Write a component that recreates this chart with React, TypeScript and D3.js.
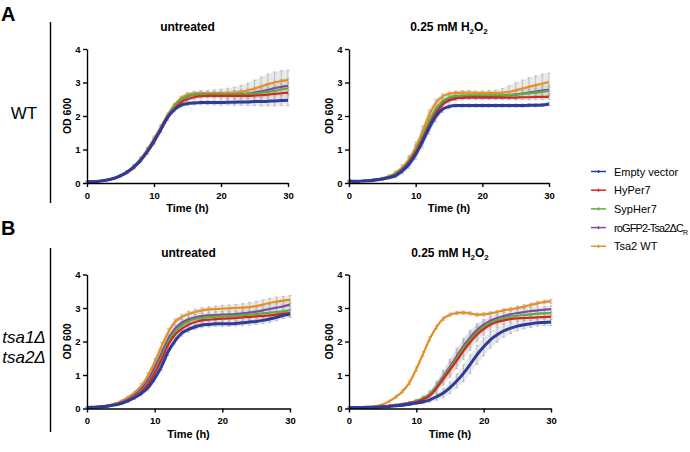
import * as d3 from "d3";
import React, { useEffect, useRef } from "react";

// hours sampled
const time = [0, 1, 2, 3, 4, 5, 6, 7, 8, 9, 10, 11, 12, 13, 14, 15, 16, 17, 18, 19, 20, 21, 22, 23, 24, 25, 26, 27, 28, 29, 30];
const xTicks = [0, 10, 20, 30];
const yTicks = [0, 1, 2, 3, 4];

const seriesNames = ["Empty vector", "HyPer7", "SypHer7", "roGFP2-Tsa2\u0394C", "Tsa2 WT"];
const seriesColors = ["#2d3b9c", "#d2281f", "#5cae3b", "#7b4ea3", "#e8901e"];

// WT, untreated
const wtCtrlEmpty = [0.04, 0.04, 0.06, 0.09, 0.14, 0.22, 0.33, 0.48, 0.68, 0.94, 1.25, 1.6, 1.95, 2.18, 2.32, 2.37, 2.39, 2.4, 2.4, 2.4, 2.4, 2.41, 2.41, 2.42, 2.42, 2.43, 2.43, 2.44, 2.45, 2.46, 2.47];
const wtCtrlHyper = [0.04, 0.04, 0.06, 0.09, 0.13, 0.21, 0.31, 0.46, 0.66, 0.92, 1.22, 1.57, 1.93, 2.2, 2.4, 2.5, 2.56, 2.59, 2.6, 2.6, 2.6, 2.6, 2.6, 2.6, 2.6, 2.61, 2.62, 2.64, 2.66, 2.68, 2.7];
const wtCtrlSypher = [0.04, 0.04, 0.06, 0.09, 0.14, 0.22, 0.33, 0.49, 0.7, 0.97, 1.28, 1.62, 1.98, 2.28, 2.48, 2.6, 2.64, 2.65, 2.65, 2.65, 2.65, 2.65, 2.65, 2.65, 2.66, 2.67, 2.69, 2.72, 2.75, 2.79, 2.82];
const wtCtrlRogfp = [0.04, 0.04, 0.06, 0.09, 0.14, 0.22, 0.33, 0.49, 0.7, 0.97, 1.28, 1.62, 1.98, 2.27, 2.47, 2.58, 2.63, 2.64, 2.64, 2.64, 2.64, 2.64, 2.65, 2.66, 2.67, 2.7, 2.74, 2.78, 2.83, 2.87, 2.9];
const wtCtrlTsa2 = [0.04, 0.04, 0.06, 0.09, 0.14, 0.22, 0.34, 0.5, 0.72, 1.0, 1.32, 1.67, 2.02, 2.32, 2.53, 2.64, 2.68, 2.69, 2.68, 2.68, 2.68, 2.69, 2.7, 2.72, 2.76, 2.82, 2.88, 2.95, 3.0, 3.04, 3.07];

const sdWtCtrlEmpty = [0.01, 0.01, 0.01, 0.02, 0.02, 0.03, 0.04, 0.05, 0.06, 0.07, 0.07, 0.07, 0.07, 0.06, 0.06, 0.06, 0.06, 0.06, 0.07, 0.07, 0.08, 0.08, 0.09, 0.1, 0.11, 0.12, 0.13, 0.14, 0.15, 0.15, 0.16];
const sdWtCtrlHyper = [0.01, 0.01, 0.01, 0.02, 0.02, 0.03, 0.04, 0.05, 0.06, 0.07, 0.08, 0.08, 0.07, 0.06, 0.06, 0.06, 0.06, 0.06, 0.06, 0.07, 0.07, 0.08, 0.08, 0.09, 0.1, 0.11, 0.12, 0.13, 0.14, 0.15, 0.16];
const sdWtCtrlSypher = [0.01, 0.01, 0.01, 0.02, 0.02, 0.03, 0.04, 0.05, 0.06, 0.07, 0.08, 0.08, 0.07, 0.06, 0.06, 0.06, 0.06, 0.06, 0.07, 0.07, 0.08, 0.09, 0.1, 0.11, 0.12, 0.13, 0.14, 0.15, 0.16, 0.17, 0.18];
const sdWtCtrlRogfp = [0.01, 0.01, 0.01, 0.02, 0.02, 0.03, 0.04, 0.05, 0.06, 0.07, 0.08, 0.08, 0.07, 0.06, 0.06, 0.06, 0.06, 0.06, 0.07, 0.08, 0.09, 0.1, 0.11, 0.12, 0.14, 0.16, 0.18, 0.2, 0.21, 0.22, 0.22];
const sdWtCtrlTsa2 = [0.01, 0.01, 0.01, 0.02, 0.02, 0.03, 0.04, 0.05, 0.06, 0.07, 0.08, 0.08, 0.07, 0.06, 0.06, 0.06, 0.06, 0.07, 0.08, 0.1, 0.12, 0.14, 0.16, 0.19, 0.22, 0.25, 0.28, 0.3, 0.31, 0.31, 0.3];

// WT, 0.25 mM H2O2
const wtPeroxEmpty = [0.07, 0.05, 0.06, 0.07, 0.09, 0.12, 0.16, 0.22, 0.36, 0.56, 0.85, 1.22, 1.63, 1.98, 2.2, 2.28, 2.31, 2.31, 2.31, 2.31, 2.31, 2.31, 2.31, 2.31, 2.31, 2.31, 2.31, 2.32, 2.32, 2.33, 2.36];
const wtPeroxHyper = [0.05, 0.05, 0.06, 0.07, 0.09, 0.12, 0.17, 0.25, 0.4, 0.62, 0.92, 1.3, 1.72, 2.08, 2.33, 2.46, 2.52, 2.54, 2.55, 2.55, 2.55, 2.55, 2.55, 2.55, 2.55, 2.55, 2.56, 2.56, 2.57, 2.57, 2.58];
const wtPeroxSypher = [0.05, 0.05, 0.06, 0.08, 0.1, 0.13, 0.19, 0.28, 0.43, 0.66, 0.98, 1.38, 1.83, 2.2, 2.44, 2.55, 2.6, 2.61, 2.62, 2.62, 2.62, 2.62, 2.62, 2.62, 2.63, 2.64, 2.66, 2.68, 2.7, 2.72, 2.75];
const wtPeroxRogfp = [0.05, 0.05, 0.06, 0.08, 0.1, 0.13, 0.18, 0.27, 0.42, 0.64, 0.96, 1.36, 1.8, 2.17, 2.41, 2.52, 2.57, 2.59, 2.6, 2.6, 2.6, 2.6, 2.6, 2.61, 2.62, 2.64, 2.67, 2.7, 2.73, 2.76, 2.78];
const wtPeroxTsa2 = [0.05, 0.05, 0.06, 0.08, 0.1, 0.14, 0.2, 0.3, 0.46, 0.7, 1.06, 1.52, 2.02, 2.38, 2.58, 2.66, 2.69, 2.7, 2.7, 2.69, 2.69, 2.69, 2.69, 2.7, 2.72, 2.77, 2.82, 2.87, 2.92, 2.97, 3.01];

const sdWtPeroxEmpty = [0.02, 0.01, 0.01, 0.02, 0.02, 0.03, 0.04, 0.06, 0.09, 0.12, 0.15, 0.17, 0.17, 0.15, 0.1, 0.06, 0.05, 0.05, 0.05, 0.05, 0.05, 0.05, 0.05, 0.05, 0.05, 0.05, 0.05, 0.05, 0.05, 0.05, 0.05];
const sdWtPeroxHyper = [0.02, 0.01, 0.01, 0.02, 0.02, 0.03, 0.04, 0.06, 0.09, 0.12, 0.16, 0.18, 0.17, 0.14, 0.1, 0.07, 0.06, 0.06, 0.06, 0.06, 0.06, 0.06, 0.06, 0.06, 0.07, 0.07, 0.07, 0.08, 0.08, 0.08, 0.08];
const sdWtPeroxSypher = [0.02, 0.01, 0.01, 0.02, 0.02, 0.03, 0.04, 0.06, 0.09, 0.12, 0.16, 0.18, 0.17, 0.14, 0.1, 0.07, 0.06, 0.06, 0.06, 0.06, 0.06, 0.06, 0.06, 0.07, 0.08, 0.09, 0.1, 0.11, 0.12, 0.12, 0.12];
const sdWtPeroxRogfp = [0.02, 0.01, 0.01, 0.02, 0.02, 0.03, 0.04, 0.06, 0.09, 0.12, 0.16, 0.18, 0.17, 0.14, 0.1, 0.07, 0.06, 0.06, 0.06, 0.06, 0.06, 0.06, 0.07, 0.08, 0.1, 0.12, 0.13, 0.14, 0.15, 0.15, 0.15];
const sdWtPeroxTsa2 = [0.02, 0.01, 0.01, 0.02, 0.02, 0.03, 0.04, 0.06, 0.09, 0.12, 0.16, 0.18, 0.16, 0.12, 0.08, 0.06, 0.06, 0.06, 0.06, 0.06, 0.06, 0.07, 0.08, 0.12, 0.18, 0.22, 0.25, 0.27, 0.28, 0.28, 0.27];

// tsa1Δ tsa2Δ, untreated
const dkoCtrlEmpty = [0.03, 0.04, 0.05, 0.07, 0.1, 0.15, 0.22, 0.32, 0.45, 0.62, 0.9, 1.25, 1.7, 2.02, 2.25, 2.36, 2.44, 2.49, 2.51, 2.53, 2.53, 2.53, 2.54, 2.56, 2.58, 2.6, 2.63, 2.67, 2.72, 2.78, 2.82];
const dkoCtrlHyper = [0.03, 0.04, 0.05, 0.07, 0.11, 0.16, 0.24, 0.35, 0.5, 0.72, 1.05, 1.45, 1.9, 2.2, 2.38, 2.5, 2.58, 2.63, 2.65, 2.67, 2.68, 2.69, 2.7, 2.72, 2.73, 2.75, 2.76, 2.78, 2.8, 2.83, 2.85];
const dkoCtrlSypher = [0.03, 0.04, 0.05, 0.07, 0.11, 0.16, 0.24, 0.36, 0.52, 0.75, 1.1, 1.52, 1.98, 2.28, 2.48, 2.6, 2.67, 2.7, 2.73, 2.74, 2.75, 2.76, 2.77, 2.79, 2.8, 2.82, 2.84, 2.86, 2.88, 2.9, 2.93];
const dkoCtrlRogfp = [0.03, 0.04, 0.05, 0.08, 0.12, 0.18, 0.27, 0.4, 0.58, 0.85, 1.22, 1.65, 2.08, 2.38, 2.56, 2.66, 2.72, 2.76, 2.78, 2.79, 2.8, 2.81, 2.82, 2.84, 2.86, 2.89, 2.93, 2.97, 3.01, 3.05, 3.1];
const dkoCtrlTsa2 = [0.03, 0.04, 0.06, 0.09, 0.14, 0.22, 0.33, 0.47, 0.67, 0.98, 1.38, 1.85, 2.27, 2.58, 2.73, 2.82, 2.88, 2.93, 2.96, 2.97, 2.98, 2.99, 3.0, 3.01, 3.03, 3.06, 3.1, 3.15, 3.19, 3.22, 3.25];

const sdDkoCtrlEmpty = [0.01, 0.01, 0.01, 0.02, 0.02, 0.03, 0.04, 0.05, 0.07, 0.09, 0.11, 0.12, 0.12, 0.1, 0.09, 0.08, 0.08, 0.08, 0.08, 0.08, 0.08, 0.08, 0.08, 0.09, 0.09, 0.09, 0.1, 0.1, 0.1, 0.1, 0.1];
const sdDkoCtrlHyper = [0.01, 0.01, 0.01, 0.02, 0.02, 0.03, 0.04, 0.05, 0.07, 0.09, 0.11, 0.12, 0.12, 0.1, 0.09, 0.08, 0.08, 0.08, 0.08, 0.08, 0.08, 0.08, 0.09, 0.09, 0.1, 0.1, 0.1, 0.11, 0.11, 0.11, 0.11];
const sdDkoCtrlSypher = [0.01, 0.01, 0.01, 0.02, 0.02, 0.03, 0.04, 0.05, 0.07, 0.09, 0.11, 0.12, 0.12, 0.1, 0.09, 0.08, 0.08, 0.08, 0.08, 0.08, 0.08, 0.09, 0.09, 0.1, 0.1, 0.1, 0.11, 0.11, 0.12, 0.12, 0.12];
const sdDkoCtrlRogfp = [0.01, 0.01, 0.01, 0.02, 0.02, 0.03, 0.04, 0.05, 0.07, 0.09, 0.11, 0.12, 0.12, 0.1, 0.09, 0.08, 0.08, 0.08, 0.08, 0.09, 0.09, 0.1, 0.1, 0.11, 0.12, 0.12, 0.13, 0.13, 0.14, 0.14, 0.14];
const sdDkoCtrlTsa2 = [0.01, 0.01, 0.01, 0.02, 0.02, 0.03, 0.04, 0.05, 0.07, 0.09, 0.11, 0.12, 0.11, 0.09, 0.08, 0.08, 0.08, 0.08, 0.08, 0.09, 0.1, 0.1, 0.11, 0.12, 0.13, 0.14, 0.14, 0.14, 0.13, 0.12, 0.12];

// tsa1Δ tsa2Δ, 0.25 mM H2O2
const dkoPeroxEmpty = [0.03, 0.03, 0.03, 0.04, 0.04, 0.05, 0.06, 0.08, 0.1, 0.13, 0.16, 0.2, 0.26, 0.35, 0.46, 0.62, 0.82, 1.05, 1.32, 1.6, 1.84, 2.05, 2.2, 2.32, 2.4, 2.46, 2.5, 2.53, 2.56, 2.57, 2.58];
const dkoPeroxHyper = [0.03, 0.03, 0.03, 0.04, 0.05, 0.06, 0.08, 0.1, 0.13, 0.16, 0.2, 0.27, 0.38, 0.6, 0.88, 1.15, 1.43, 1.72, 1.98, 2.2, 2.37, 2.5, 2.58, 2.63, 2.67, 2.69, 2.7, 2.71, 2.72, 2.73, 2.74];
const dkoPeroxSypher = [0.03, 0.03, 0.03, 0.04, 0.05, 0.06, 0.08, 0.1, 0.13, 0.17, 0.22, 0.3, 0.42, 0.65, 0.93, 1.2, 1.5, 1.8, 2.05, 2.27, 2.44, 2.56, 2.64, 2.7, 2.74, 2.77, 2.79, 2.81, 2.83, 2.84, 2.85];
const dkoPeroxRogfp = [0.03, 0.03, 0.03, 0.04, 0.05, 0.06, 0.08, 0.1, 0.13, 0.17, 0.22, 0.3, 0.43, 0.67, 0.96, 1.25, 1.56, 1.86, 2.12, 2.34, 2.5, 2.62, 2.7, 2.76, 2.81, 2.85, 2.88, 2.91, 2.93, 2.95, 2.97];
const dkoPeroxTsa2 = [0.03, 0.03, 0.04, 0.05, 0.07, 0.12, 0.22, 0.35, 0.52, 0.78, 1.18, 1.63, 2.08, 2.43, 2.68, 2.8, 2.85, 2.86, 2.84, 2.8, 2.81, 2.84, 2.88, 2.93, 2.96, 3.0, 3.04, 3.09, 3.14, 3.18, 3.2];

const sdDkoPeroxEmpty = [0.01, 0.01, 0.01, 0.01, 0.01, 0.02, 0.02, 0.03, 0.03, 0.04, 0.05, 0.06, 0.08, 0.1, 0.13, 0.17, 0.21, 0.25, 0.27, 0.28, 0.27, 0.25, 0.22, 0.19, 0.16, 0.14, 0.12, 0.11, 0.1, 0.1, 0.1];
const sdDkoPeroxHyper = [0.01, 0.01, 0.01, 0.01, 0.01, 0.02, 0.02, 0.03, 0.03, 0.04, 0.05, 0.07, 0.1, 0.14, 0.18, 0.22, 0.24, 0.25, 0.24, 0.21, 0.18, 0.15, 0.12, 0.1, 0.09, 0.08, 0.08, 0.08, 0.08, 0.08, 0.08];
const sdDkoPeroxSypher = [0.01, 0.01, 0.01, 0.01, 0.01, 0.02, 0.02, 0.03, 0.03, 0.04, 0.05, 0.07, 0.1, 0.14, 0.18, 0.22, 0.24, 0.24, 0.23, 0.2, 0.17, 0.14, 0.12, 0.1, 0.09, 0.09, 0.09, 0.09, 0.09, 0.09, 0.09];
const sdDkoPeroxRogfp = [0.01, 0.01, 0.01, 0.01, 0.01, 0.02, 0.02, 0.03, 0.03, 0.04, 0.05, 0.07, 0.1, 0.14, 0.18, 0.22, 0.24, 0.24, 0.22, 0.19, 0.16, 0.13, 0.11, 0.1, 0.1, 0.1, 0.1, 0.1, 0.1, 0.1, 0.1];
const sdDkoPeroxTsa2 = [0.01, 0.01, 0.01, 0.01, 0.02, 0.02, 0.03, 0.04, 0.05, 0.06, 0.07, 0.07, 0.07, 0.06, 0.05, 0.05, 0.05, 0.05, 0.05, 0.05, 0.05, 0.05, 0.05, 0.05, 0.05, 0.06, 0.06, 0.06, 0.06, 0.06, 0.06];

const FONT = "'Liberation Sans', Arial, Helvetica, sans-serif";

const panels = [
  { x0: 87, x1: 288, y0: 183, y1: 49, peroxide: false,
    means: [wtCtrlEmpty, wtCtrlHyper, wtCtrlSypher, wtCtrlRogfp, wtCtrlTsa2],
    sds: [sdWtCtrlEmpty, sdWtCtrlHyper, sdWtCtrlSypher, sdWtCtrlRogfp, sdWtCtrlTsa2] },
  { x0: 349, x1: 549, y0: 183, y1: 49, peroxide: true,
    means: [wtPeroxEmpty, wtPeroxHyper, wtPeroxSypher, wtPeroxRogfp, wtPeroxTsa2],
    sds: [sdWtPeroxEmpty, sdWtPeroxHyper, sdWtPeroxSypher, sdWtPeroxRogfp, sdWtPeroxTsa2] },
  { x0: 87, x1: 290, y0: 408.5, y1: 274.5, peroxide: false,
    means: [dkoCtrlEmpty, dkoCtrlHyper, dkoCtrlSypher, dkoCtrlRogfp, dkoCtrlTsa2],
    sds: [sdDkoCtrlEmpty, sdDkoCtrlHyper, sdDkoCtrlSypher, sdDkoCtrlRogfp, sdDkoCtrlTsa2] },
  { x0: 349, x1: 551, y0: 408.5, y1: 274.5, peroxide: true,
    means: [dkoPeroxEmpty, dkoPeroxHyper, dkoPeroxSypher, dkoPeroxRogfp, dkoPeroxTsa2],
    sds: [sdDkoPeroxEmpty, sdDkoPeroxHyper, sdDkoPeroxSypher, sdDkoPeroxRogfp, sdDkoPeroxTsa2] },
];

const drawOrder = [4, 3, 2, 1, 0];

const App = () => {
  const ref = useRef<SVGSVGElement>(null);

  useEffect(() => {
    const svg = d3.select(ref.current);
    svg.selectAll("*").remove();
    svg.attr("font-family", FONT);

    panels.forEach((p) => {
      const x = d3.scaleLinear().domain([0, 30]).range([p.x0, p.x1]);
      const y = d3.scaleLinear().domain([0, 4]).range([p.y0, p.y1]);
      const g = svg.append("g");

      // grey error band + bars
      drawOrder.forEach((k) => {
        const m = p.means[k];
        const sd = p.sds[k];
        const band = d3
          .area<number>()
          .x((_, i) => x(time[i]))
          .y0((d, i) => y(d - sd[i]))
          .y1((d, i) => y(d + sd[i]))
          .curve(d3.curveMonotoneX);
        g.append("path").attr("d", band(m)).attr("fill", "#d4d4d4").attr("fill-opacity", 0.5);

        const bars = g.append("g").attr("stroke", "#aaaaaa").attr("stroke-width", 0.7);
        bars
          .selectAll("line.v")
          .data(m)
          .join("line")
          .attr("x1", (_, i) => x(time[i]))
          .attr("x2", (_, i) => x(time[i]))
          .attr("y1", (d, i) => y(d - sd[i]))
          .attr("y2", (d, i) => y(d + sd[i]));
        ["lo", "hi"].forEach((side) => {
          bars
            .selectAll(`line.${side}`)
            .data(m)
            .join("line")
            .attr("class", side)
            .attr("x1", (_, i) => x(time[i]) - 1.5)
            .attr("x2", (_, i) => x(time[i]) + 1.5)
            .attr("y1", (d, i) => y(side === "lo" ? d - sd[i] : d + sd[i]))
            .attr("y2", (d, i) => y(side === "lo" ? d - sd[i] : d + sd[i]));
        });
      });

      // mean curves
      const line = d3
        .line<number>()
        .x((_, i) => x(time[i]))
        .y((d) => y(d))
        .curve(d3.curveMonotoneX);
      drawOrder.forEach((k) => {
        g.append("path")
          .attr("d", line(p.means[k]))
          .attr("fill", "none")
          .attr("stroke", seriesColors[k])
          .attr("stroke-width", k === 0 ? 3 : 2.2)
          .attr("stroke-linejoin", "round");
      });

      // axes
      const xa = g
        .append("g")
        .attr("transform", `translate(0,${p.y0})`)
        .call(d3.axisBottom(x).tickValues(xTicks).tickSize(4).tickSizeOuter(0).tickPadding(5).tickFormat(d3.format("d")));
      const ya = g
        .append("g")
        .attr("transform", `translate(${p.x0},0)`)
        .call(d3.axisLeft(y).tickValues(yTicks).tickSize(4).tickSizeOuter(0).tickPadding(2.5).tickFormat(d3.format("d")));
      [xa, ya].forEach((a) => {
        a.selectAll("path,line").attr("stroke", "#000").attr("stroke-width", 1.4);
        a.selectAll("text")
          .attr("font-family", FONT)
          .attr("font-weight", "bold")
          .attr("font-size", 9.5)
          .attr("fill", "#000");
      });

      // axis titles
      g.append("text")
        .attr("x", (p.x0 + p.x1) / 2)
        .attr("y", p.y0 + 29)
        .attr("text-anchor", "middle")
        .attr("font-weight", "bold")
        .attr("font-size", 11)
        .text("Time (h)");
      g.append("text")
        .attr("transform", `translate(${p.x0 - 16},${(p.y0 + p.y1) / 2}) rotate(-90)`)
        .attr("text-anchor", "middle")
        .attr("font-weight", "bold")
        .attr("font-size", 10.5)
        .text("OD 600");

      // panel title
      const t = g
        .append("text")
        .attr("x", (p.x0 + p.x1) / 2)
        .attr("y", p.y1 - 18)
        .attr("text-anchor", "middle")
        .attr("font-weight", "bold")
        .attr("font-size", 12);
      if (p.peroxide) {
        t.append("tspan").text("0.25 mM H");
        t.append("tspan").attr("font-size", 8).attr("dy", 3).text("2");
        t.append("tspan").attr("dy", -3).text("O");
        t.append("tspan").attr("font-size", 8).attr("dy", 3).text("2");
      } else {
        t.text("untreated");
      }
    });

    // row labels
    svg.append("text").attr("x", 1).attr("y", 21).attr("font-weight", "bold").attr("font-size", 20).text("A");
    svg.append("text").attr("x", 1).attr("y", 235).attr("font-weight", "bold").attr("font-size", 20).text("B");
    svg.append("line").attr("x1", 50.5).attr("x2", 50.5).attr("y1", 22).attr("y2", 203).attr("stroke", "#000").attr("stroke-width", 1.4);
    svg.append("line").attr("x1", 50.5).attr("x2", 50.5).attr("y1", 248).attr("y2", 432).attr("stroke", "#000").attr("stroke-width", 1.4);
    svg.append("text").attr("x", 24).attr("y", 119).attr("text-anchor", "middle").attr("font-size", 17).text("WT");
    svg.append("text").attr("x", 24).attr("y", 343).attr("text-anchor", "middle").attr("font-size", 17).attr("font-style", "italic").text("tsa1\u0394");
    svg.append("text").attr("x", 24).attr("y", 363).attr("text-anchor", "middle").attr("font-size", 17).attr("font-style", "italic").text("tsa2\u0394");

    // legend
    const legend = svg.append("g");
    seriesNames.forEach((name, k) => {
      const ly = 171.5 + k * 18.7;
      legend.append("line").attr("x1", 591).attr("x2", 606).attr("y1", ly).attr("y2", ly).attr("stroke", seriesColors[k]).attr("stroke-width", 1.5);
      legend.append("line").attr("x1", 598.5).attr("x2", 598.5).attr("y1", ly - 1.5).attr("y2", ly + 1.5).attr("stroke", seriesColors[k]).attr("stroke-width", 1.5);
      const txt = legend.append("text").attr("x", 614).attr("y", ly + 4).attr("font-size", 11);
      if (k === 3) {
        txt.attr("letter-spacing", -0.9).text(name);
        txt.append("tspan").attr("font-size", 7).attr("dy", 3).text("R");
      } else {
        txt.text(name);
      }
    });
  }, []);

  return (
    <svg
      ref={ref}
      width={690}
      height={452}
      style={{ position: "absolute", left: 0, top: 0, background: "#fff" }}
    />
  );
};

export default App;
